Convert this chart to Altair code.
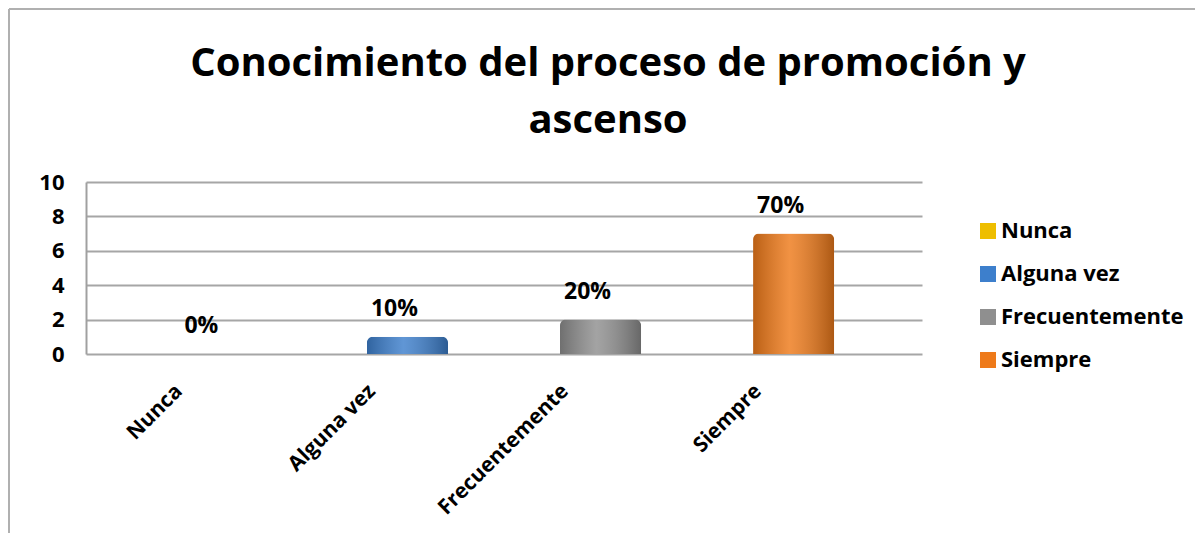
import altair as alt
import pandas as pd

categories = ["Nunca", "Alguna vez", "Frecuentemente", "Siempre"]
values = [0, 1, 2, 7]
labels = ["0%", "10%", "20%", "70%"]
colors = ["#EEBE00", "#3D7FCC", "#8F8F8F", "#EE7A1A"]

df = pd.DataFrame({"cat": categories, "val": values, "lab": labels})

FONT = "Open Sans"

x_enc = alt.X(
    "cat:N",
    sort=categories,
    scale=alt.Scale(paddingInner=0.58, paddingOuter=0.455),
    axis=alt.Axis(
        title=None, labelAngle=-45, labelAlign="right", labelBaseline="top",
        labelFont=FONT, labelFontSize=21, labelFontWeight="bold", labelColor="black",
        labelOffset=-43, labelPadding=26, ticks=False, domain=False, grid=False,
        labelOverlap=False, labelLimit=400,
    ),
)
y_enc = alt.Y(
    "val:Q",
    scale=alt.Scale(domain=[0, 10], nice=False),
    axis=alt.Axis(
        title=None, values=[0, 2, 4, 6, 8, 10], labelFont=FONT, labelFontSize=22,
        labelFontWeight="bold", labelColor="black", ticks=False, labelPadding=22,
        labelOverlap=False, labelFlush=False,
        domain=True, domainColor="#A0A0A0", domainWidth=2,
        grid=True, gridColor="#A6A6A6", gridWidth=1.8,
    ),
)

base = alt.Chart(df)

bars = base.mark_bar(cornerRadiusTopLeft=6, cornerRadiusTopRight=6).encode(
    x=x_enc,
    y=y_enc,
    color=alt.Color(
        "cat:N", sort=categories,
        scale=alt.Scale(domain=categories, range=colors),
        legend=alt.Legend(
            title=None, orient="none", legendX=891, legendY=38, padding=0,
            symbolType="square", symbolSize=256, symbolStrokeWidth=0,
            labelFont=FONT, labelFontSize=22, labelFontWeight="bold", labelColor="black",
            labelOffset=2, rowPadding=21, labelLimit=400,
        ),
    ),
)

shade = base.mark_bar(
    cornerRadiusTopLeft=6, cornerRadiusTopRight=6,
    color=alt.Gradient(
        gradient="linear", x1=0, x2=1, y1=0, y2=0,
        stops=[
            alt.GradientStop(color="rgba(0,0,0,0.22)", offset=0),
            alt.GradientStop(color="rgba(255,255,255,0.18)", offset=0.45),
            alt.GradientStop(color="rgba(0,0,0,0.28)", offset=1),
        ],
    ),
).encode(x=x_enc, y=y_enc)

text = base.mark_text(
    font=FONT, fontSize=23, fontWeight="bold", color="black",
    baseline="alphabetic", dy=-21, dx=-13,
).encode(x=x_enc, y=y_enc, text="lab:N")

frame_data = alt.Data(values=[{"a": 1}])
left_border = alt.Chart(frame_data).mark_rule(color="#B0B0B0", strokeWidth=2).encode(
    x=alt.value(-77), y=alt.value(-173), y2=alt.value(351)
)
top_border = alt.Chart(frame_data).mark_rule(color="#B0B0B0", strokeWidth=2).encode(
    x=alt.value(-77), x2=alt.value(1109), y=alt.value(-173)
)

chart = alt.layer(bars, shade, text, left_border, top_border).properties(
    width=836,
    height=172,
    autosize=alt.AutoSizeParams(type="none"),
    padding={"left": 78, "top": 174, "right": 273, "bottom": 179},
    title=alt.TitleParams(
        text=["Conocimiento del proceso de promoción y", "ascenso"],
        font=FONT, fontSize=40, fontWeight="bold", color="black",
        anchor="middle", dx=104, lineHeight=57, offset=-133,
    ),
).configure_view(stroke=None)

chart.save("out.html", embed_options={"renderer": "svg", "actions": False})
